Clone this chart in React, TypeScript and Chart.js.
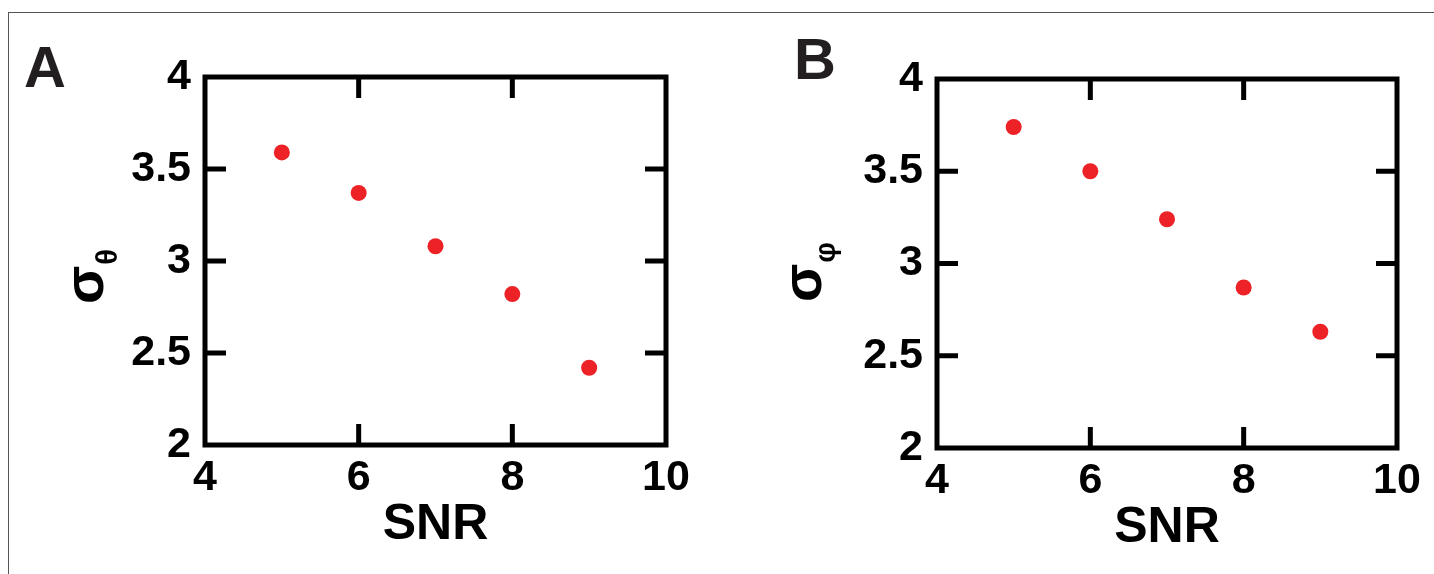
import React, { useEffect, useRef } from "react";
import { Chart, registerables } from "chart.js";

Chart.register(...registerables);

// ---- data ----
const SNR = [5, 6, 7, 8, 9];
const SIGMA_THETA = [3.59, 3.37, 3.08, 2.82, 2.42];
const SIGMA_PHI = [3.74, 3.5, 3.24, 2.87, 2.63];
const X_TICKS = [4, 6, 8, 10];
const Y_TICKS = [2, 2.5, 3, 3.5, 4];
const X_TITLE = "SNR";
const Y_SYMBOL = "σ";
const SUB_A = "θ";
const SUB_B = "φ";
const PANEL_A = "A";
const PANEL_B = "B";

const FONT = "'Liberation Sans', Arial, Helvetica, sans-serif";
const RED = "#ec2227";
const INK = "#000000";
const LETTER = "#231f20";

type PanelCfg = {
  letter: string;
  sub: string;
  values: number[];
  width: number;
  height: number;
  top: number;
  right: number;
  yWidth: number;
  xHeight: number;
  titlePad: number;
  letterX: number;
  letterY: number;
  yTitleX: number;
  yTitleY: number;
};

function decorPlugin(cfg: PanelCfg) {
  return {
    id: "decor" + cfg.letter,
    afterDraw(chart: any) {
      const ctx: CanvasRenderingContext2D = chart.ctx;
      const { left, right, top, bottom } = chart.chartArea;
      const xs = chart.scales.x;
      const ys = chart.scales.y;
      const tickLen = 21;
      ctx.save();
      ctx.strokeStyle = INK;
      ctx.lineWidth = 5;
      ctx.lineJoin = "miter";
      ctx.lineCap = "butt";
      ctx.strokeRect(left, top, right - left, bottom - top);
      ctx.beginPath();
      X_TICKS.forEach((v) => {
        if (v <= xs.min || v >= xs.max) return;
        const px = xs.getPixelForValue(v);
        ctx.moveTo(px, bottom);
        ctx.lineTo(px, bottom - tickLen);
        ctx.moveTo(px, top);
        ctx.lineTo(px, top + tickLen);
      });
      Y_TICKS.forEach((v) => {
        if (v <= ys.min || v >= ys.max) return;
        const py = ys.getPixelForValue(v);
        ctx.moveTo(left, py);
        ctx.lineTo(left + tickLen, py);
        ctx.moveTo(right, py);
        ctx.lineTo(right - tickLen, py);
      });
      ctx.stroke();

      // panel letter
      ctx.fillStyle = LETTER;
      ctx.font = `bold 58px ${FONT}`;
      ctx.textAlign = "left";
      ctx.textBaseline = "alphabetic";
      ctx.fillText(cfg.letter, cfg.letterX, cfg.letterY);

      // y title: sigma with subscript, rotated
      ctx.fillStyle = INK;
      ctx.translate(cfg.yTitleX, cfg.yTitleY);
      ctx.rotate(-Math.PI / 2);
      ctx.font = `bold 56px ${FONT}`;
      ctx.fillText(Y_SYMBOL, 0, 0);
      const w = ctx.measureText(Y_SYMBOL).width;
      ctx.font = `bold 29px ${FONT}`;
      ctx.fillText(cfg.sub, w + 1, 14);
      ctx.restore();
    },
  };
}

function Panel({ cfg, left }: { cfg: PanelCfg; left: number }) {
  const ref = useRef<HTMLCanvasElement | null>(null);
  useEffect(() => {
    if (!ref.current) return;
    const tickFont = { family: FONT, size: 43, weight: "bold" as const, lineHeight: 1 };
    const chart = new Chart(ref.current, {
      type: "scatter",
      data: {
        datasets: [
          {
            data: SNR.map((x, i) => ({ x, y: cfg.values[i] })),
            backgroundColor: RED,
            borderWidth: 0,
            pointRadius: 8,
            pointHoverRadius: 8,
          },
        ],
      },
      options: {
        animation: false,
        responsive: false,
        events: [],
        layout: { padding: { left: 0, top: cfg.top, right: cfg.right, bottom: 0 } },
        plugins: { legend: { display: false }, tooltip: { enabled: false } },
        scales: {
          x: {
            type: "linear",
            min: X_TICKS[0],
            max: X_TICKS[X_TICKS.length - 1],
            afterBuildTicks: (s: any) => {
              s.ticks = X_TICKS.map((v) => ({ value: v }));
            },
            afterFit: (s: any) => {
              s.height = cfg.xHeight;
            },
            grid: { display: false, drawTicks: false },
            border: { display: false },
            ticks: {
              color: INK,
              font: tickFont,
              padding: 12,
              maxRotation: 0,
              autoSkip: false,
              callback: (v: any) => String(v),
            },
            title: {
              display: true,
              text: X_TITLE,
              color: INK,
              font: { family: FONT, size: 50, weight: "bold", lineHeight: 1 },
              padding: { top: 0, bottom: cfg.titlePad },
            },
          },
          y: {
            type: "linear",
            min: Y_TICKS[0],
            max: Y_TICKS[Y_TICKS.length - 1],
            afterBuildTicks: (s: any) => {
              s.ticks = Y_TICKS.map((v) => ({ value: v }));
            },
            afterFit: (s: any) => {
              s.width = cfg.yWidth;
            },
            grid: { display: false, drawTicks: false },
            border: { display: false },
            ticks: {
              color: INK,
              font: tickFont,
              padding: 14,
              autoSkip: false,
              callback: (v: any) => String(v),
            },
            title: { display: false },
          },
        },
      },
      plugins: [decorPlugin(cfg)],
    } as any);
    return () => chart.destroy();
  }, [cfg]);
  return (
    <canvas
      ref={ref}
      width={cfg.width}
      height={cfg.height}
      style={{ position: "absolute", left, top: 0, width: cfg.width, height: cfg.height }}
    />
  );
}

const CFG_A: PanelCfg = {
  letter: PANEL_A,
  sub: SUB_A,
  values: SIGMA_THETA,
  width: 717,
  height: 574,
  top: 77,
  right: 51,
  yWidth: 205,
  xHeight: 129,
  titlePad: 24,
  letterX: 24,
  letterY: 87,
  yTitleX: 103,
  yTitleY: 304,
};

const CFG_B: PanelCfg = {
  letter: PANEL_B,
  sub: SUB_B,
  values: SIGMA_PHI,
  width: 717,
  height: 574,
  top: 79,
  right: 37,
  yWidth: 220,
  xHeight: 126,
  titlePad: 21,
  letterX: 77,
  letterY: 79,
  yTitleX: 104,
  yTitleY: 302,
};

export default function App() {
  return (
    <div
      style={{
        position: "fixed",
        left: 0,
        top: 0,
        width: 1434,
        height: 574,
        background: "#ffffff",
        overflow: "hidden",
      }}
    >
      <div
        style={{
          position: "absolute",
          left: 8,
          top: 12,
          right: 0,
          bottom: 0,
          borderTop: "1px solid #555555",
          borderLeft: "1px solid #555555",
        }}
      />
      <Panel cfg={CFG_A} left={0} />
      <Panel cfg={CFG_B} left={717} />
    </div>
  );
}
